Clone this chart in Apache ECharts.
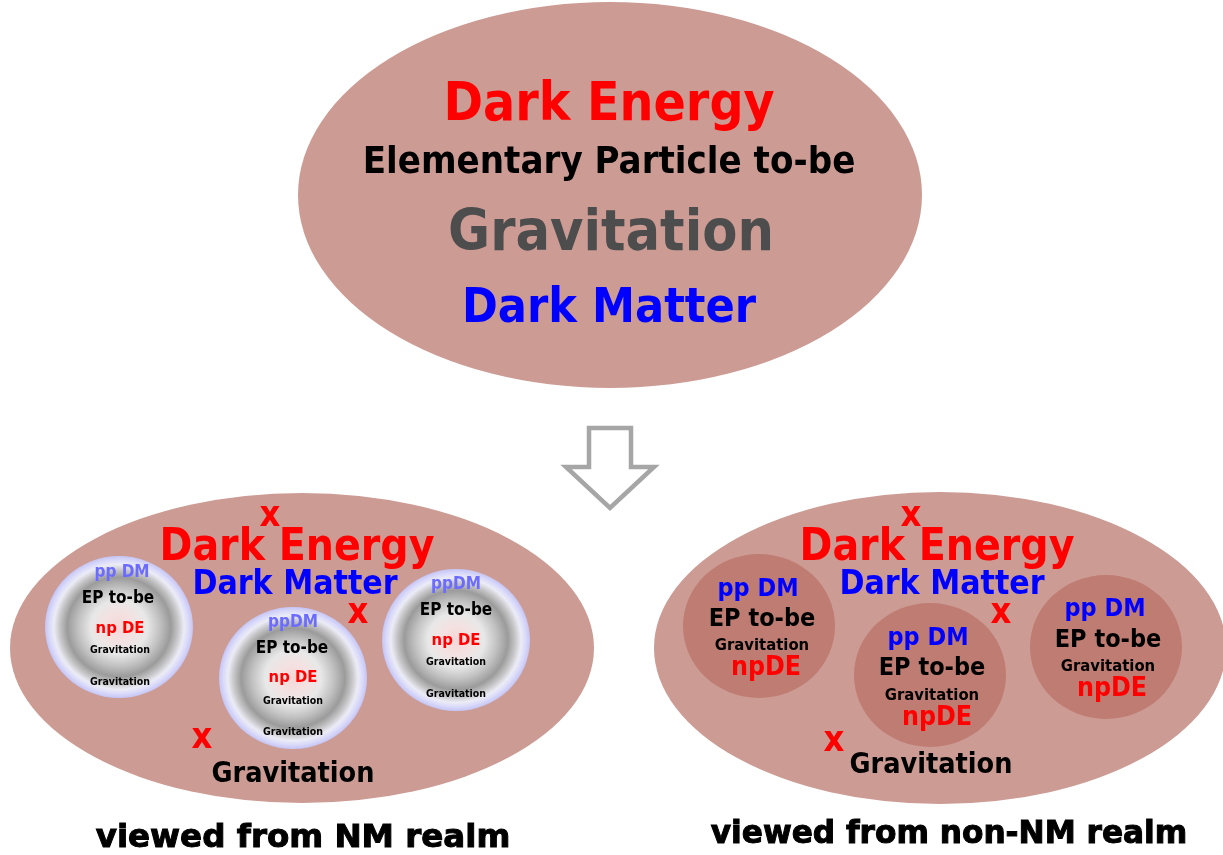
<!DOCTYPE html>
<html>
<head>
<meta charset="utf-8">
<script src="https://cdn.jsdelivr.net/npm/echarts@6/dist/echarts.min.js"></script>
<style>
html,body{margin:0;padding:0;background:#ffffff;}
#chart{width:1223px;height:855px;}
</style>
</head>
<body>
<div id="chart"></div>
<script>
// ---- Data (diagram layout expressed in axis units of a hidden 1223 x 855 plane) ----
const shapeNames = ['top', 'nmRealm', 'nonNmRealm', 'nmC1', 'nmC2', 'nmC3', 'nonC1', 'nonC2', 'nonC3'];
const shapeCx    = [610, 302, 940, 119, 293, 456, 759, 930, 1106];
const shapeCy    = [195, 648, 648, 627, 678, 640, 626, 675, 647];
const shapeRx    = [312, 292, 286, 74, 74, 74, 76, 76, 76];
const shapeRy    = [193, 155, 156, 71, 71, 71, 72, 72, 72];
const shapeKind  = ['outer', 'outer', 'outer', 'ring', 'ring', 'ring', 'disc', 'disc', 'disc'];

const arrowX = [589, 631, 631, 654, 610, 566, 589];
const arrowY = [428, 428, 467, 467, 508, 467, 467];

const labelText = [
  'Dark Energy', 'Elementary Particle to-be', 'Gravitation', 'Dark Matter',
  'x', 'Dark Energy', 'Dark Matter', 'x', 'x', 'Gravitation',
  'pp DM', 'EP to-be', 'np DE', 'Gravitation', 'Gravitation',
  'ppDM', 'EP to-be', 'np DE', 'Gravitation', 'Gravitation',
  'ppDM', 'EP to-be', 'np DE', 'Gravitation', 'Gravitation',
  'x', 'Dark Energy', 'Dark Matter', 'x', 'x', 'Gravitation',
  'pp DM', 'EP to-be', 'Gravitation', 'npDE',
  'pp DM', 'EP to-be', 'Gravitation', 'npDE',
  'pp DM', 'EP to-be', 'Gravitation', 'npDE',
  'viewed from NM realm', 'viewed from non-NM realm'
];
const labelX = [
  609, 609, 611, 609,
  270, 297, 295, 358, 202, 293,
  122, 118, 120, 120, 120,
  293, 292, 293, 293, 293,
  456, 456, 456, 456, 456,
  911, 937, 942, 1001, 834, 931,
  758, 762, 762, 766,
  928, 932, 932, 937,
  1105, 1108, 1108, 1112,
  303, 949
];
const labelY = [
  101, 160, 230, 305,
  513, 545, 582, 610, 735, 772,
  571, 597, 627, 649, 681,
  621, 647, 676, 700, 731,
  583, 609, 639, 661, 693,
  513, 545, 582, 610, 738, 763,
  587, 617, 644, 666,
  636, 666, 694, 716,
  607, 638, 665, 687,
  836, 832
];
const labelKind = [
  'topDE', 'topEP', 'topGrav', 'topDM',
  'x', 'midDE', 'midDM', 'x', 'x', 'midGrav',
  'ppdmS', 'epS', 'npdeS', 'gravS', 'gravS',
  'ppdmS', 'epS', 'npdeS', 'gravS', 'gravS',
  'ppdmS', 'epS', 'npdeS', 'gravS', 'gravS',
  'x', 'midDE', 'midDM', 'x', 'x', 'midGrav',
  'ppdmR', 'epR', 'gravR', 'npdeR',
  'ppdmR', 'epR', 'gravR', 'npdeR',
  'ppdmR', 'epR', 'gravR', 'npdeR',
  'capL', 'capR'
];

// ---- Styles ----
const MAIN_FONT = '"DejaVu Sans Condensed", "DejaVu Sans", sans-serif';
const CAP_FONT = '"DejaVu Sans", sans-serif';
const RED = '#ff0000', BLUE = '#0000ff', BLACK = '#000000';
const BASELINE_SHIFT = 0.09; // em-box middle -> visual middle
const textStyles = {
  topDE:  {size: 53, color: RED},
  topEP:  {size: 38, color: BLACK},
  topGrav:{size: 57, color: '#4d4d4d'},
  topDM:  {size: 48, color: BLUE},
  x:      {size: 36, color: RED},
  midDE:  {size: 44, color: RED},
  midDM:  {size: 33.5, color: BLUE},
  midGrav:{size: 28.5, color: BLACK},
  ppdmS:  {size: 17, color: '#6b6bff'},
  epS:    {size: 17, color: BLACK},
  npdeS:  {size: 16.5, color: RED},
  gravS:  {size: 10.5, color: BLACK},
  ppdmR:  {size: 25, color: BLUE},
  epR:    {size: 25, color: BLACK},
  gravR:  {size: 16.5, color: BLACK},
  npdeR:  {size: 26.5, color: RED},
  capL:   {size: 32.5, color: BLACK, font: CAP_FONT, heavy: true},
  capR:   {size: 31.2, color: BLACK, font: CAP_FONT, heavy: true}
};
const shapeFills = {
  outer: '#cc9b94',
  disc: '#be7c73',
  ring: {
    type: 'radial', x: 0.5, y: 0.5, r: 0.5,
    colorStops: [
      {offset: 0, color: '#f6d6d6'},
      {offset: 0.2, color: '#f4e1e1'},
      {offset: 0.38, color: '#e8e8e8'},
      {offset: 0.55, color: '#c2c2c2'},
      {offset: 0.7, color: '#9b9b9b'},
      {offset: 0.8, color: '#c6c6c8'},
      {offset: 0.88, color: '#ececf6'},
      {offset: 0.94, color: '#dadafa'},
      {offset: 1, color: '#c5c5f5'}
    ]
  }
};

const chart = echarts.init(document.getElementById('chart'), null, {renderer: 'canvas'});

const shapeData = shapeCx.map((x, i) => [x, shapeCy[i], shapeRx[i], shapeRy[i], i]);
const arrowData = arrowX.map((x, i) => [x, arrowY[i]]);
const labelData = labelX.map((x, i) => [x, labelY[i], i]);

chart.setOption({
  animation: false,
  backgroundColor: '#ffffff',
  grid: {left: 0, right: 0, top: 0, bottom: 0},
  xAxis: {type: 'value', min: 0, max: 1223, show: false},
  yAxis: {type: 'value', min: 0, max: 855, inverse: true, show: false},
  series: [
    {
      type: 'custom',
      name: 'shapes',
      coordinateSystem: 'cartesian2d',
      encode: {x: 0, y: 1},
      silent: true,
      data: shapeData,
      renderItem: function (params, api) {
        const cx = api.value(0), cy = api.value(1), rx = api.value(2), ry = api.value(3), idx = api.value(4);
        const p0 = api.coord([cx, cy]);
        const p1 = api.coord([cx + rx, cy + ry]);
        const rxp = Math.abs(p1[0] - p0[0]);
        const ryp = Math.abs(p1[1] - p0[1]);
        return {
          type: 'circle',
          x: p0[0], y: p0[1],
          scaleY: ryp / rxp,
          shape: {cx: 0, cy: 0, r: rxp},
          style: {fill: shapeFills[shapeKind[idx]]}
        };
      }
    },
    {
      type: 'custom',
      name: 'arrow',
      coordinateSystem: 'cartesian2d',
      encode: {x: 0, y: 1},
      silent: true,
      data: [0],
      renderItem: function (params, api) {
        const pts = arrowData.map(p => api.coord(p));
        return {
          type: 'polygon',
          shape: {points: pts},
          style: {fill: '#ffffff', stroke: '#a6a6a6', lineWidth: 4.5, lineJoin: 'miter'}
        };
      }
    },
    {
      type: 'custom',
      name: 'labels',
      coordinateSystem: 'cartesian2d',
      encode: {x: 0, y: 1},
      silent: true,
      data: labelData,
      renderItem: function (params, api) {
        const idx = api.value(2);
        const p = api.coord([api.value(0), api.value(1)]);
        const st = textStyles[labelKind[idx]];
        const style = {
          text: labelText[idx],
          fill: st.color,
          fontSize: st.size,
          fontFamily: st.font || MAIN_FONT,
          fontWeight: 'bold',
          align: 'center',
          verticalAlign: 'middle'
        };
        if (st.heavy) { style.stroke = st.color; style.lineWidth = 1; }
        return {
          type: 'text',
          x: p[0], y: p[1] + st.size * BASELINE_SHIFT,
          style: style
        };
      }
    }
  ]
});
</script>
</body>
</html>
